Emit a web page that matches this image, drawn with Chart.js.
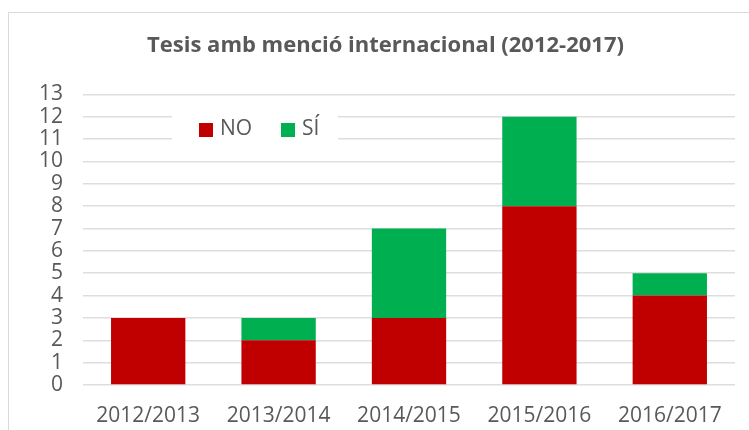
<!DOCTYPE html>
<html>
<head>
<meta charset="utf-8">
<script src="https://cdn.jsdelivr.net/npm/chart.js@4"></script>
<style>
  body { margin: 0; background: #fff; }
  #wrap { position: relative; width: 749px; height: 430px; }
  #frame { position: absolute; left: 8px; top: 12px; right: 0; bottom: 0; border-left: 1px solid #d9d9d9; border-top: 1px solid #d9d9d9; pointer-events: none; }
</style>
</head>
<body>
<div id="wrap">
  <canvas id="chart-tesis" width="749" height="430"></canvas>
  <div id="frame"></div>
</div>
<script>
const cursos = ['2012/2013', '2013/2014', '2014/2015', '2015/2016', '2016/2017'];
const valoresNo = [3, 2, 3, 8, 4];
const valoresSi = [0, 1, 4, 4, 1];
const titulo = 'Tesis amb menció internacional (2012-2017)';

const gris = '#595959';
const fuente = "'Open Sans', sans-serif";

// leyenda dentro del area del grafico, con fondo blanco sobre la rejilla
const leyendaDentro = {
    id: 'leyendaDentro',
    afterDatasetsDraw(chart) {
        const ctx = chart.ctx;
        ctx.save();
        ctx.fillStyle = '#fff';
        ctx.fillRect(172, 106, 166, 44);
        ctx.font = '21px ' + fuente;
        ctx.textBaseline = 'middle';
        let x = 199;
        chart.data.datasets.forEach(ds => {
            ctx.fillStyle = ds.backgroundColor;
            ctx.fillRect(x, 123, 14, 14);
            ctx.fillStyle = gris;
            ctx.fillText(ds.label, x + 21, 129);
            x += 82;
        });
        ctx.restore();
    }
};

const ctx = document.getElementById('chart-tesis').getContext('2d');
const chart = new Chart(ctx, {
    type: 'bar',
    data: {
        labels: cursos,
        datasets: [{
            label: 'NO',
            data: valoresNo,
            backgroundColor: '#c00000'
        }, {
            label: 'SÍ',
            data: valoresSi,
            backgroundColor: '#00b050'
        }]
    },
    options: {
        responsive: false,
        animation: false,
        layout: {
            padding: { left: 36, right: 14, top: 0, bottom: 0 }
        },
        datasets: {
            bar: { categoryPercentage: 1, barPercentage: 0.57 }
        },
        scales: {
            x: {
                stacked: true,
                grid: { display: false },
                border: { display: false },
                ticks: { color: gris, font: { family: fuente, size: 21 }, padding: 10 },
                afterFit: s => { s.height = 45; }
            },
            y: {
                stacked: true,
                min: 0,
                max: 13,
                ticks: { stepSize: 1, autoSkip: false, color: gris, font: { family: fuente, size: 21 }, padding: 20 },
                grid: { color: '#dedede', lineWidth: 1.5, drawTicks: false },
                border: { display: false },
                afterFit: s => { s.width = 47; }
            }
        },
        plugins: {
            legend: { display: false },
            tooltip: { enabled: false },
            title: {
                display: true,
                text: titulo,
                color: gris,
                font: { family: fuente, size: 22, weight: 'bold' },
                padding: { top: 33, bottom: 35 }
            }
        }
    },
    plugins: [leyendaDentro]
});
</script>
</body>
</html>
